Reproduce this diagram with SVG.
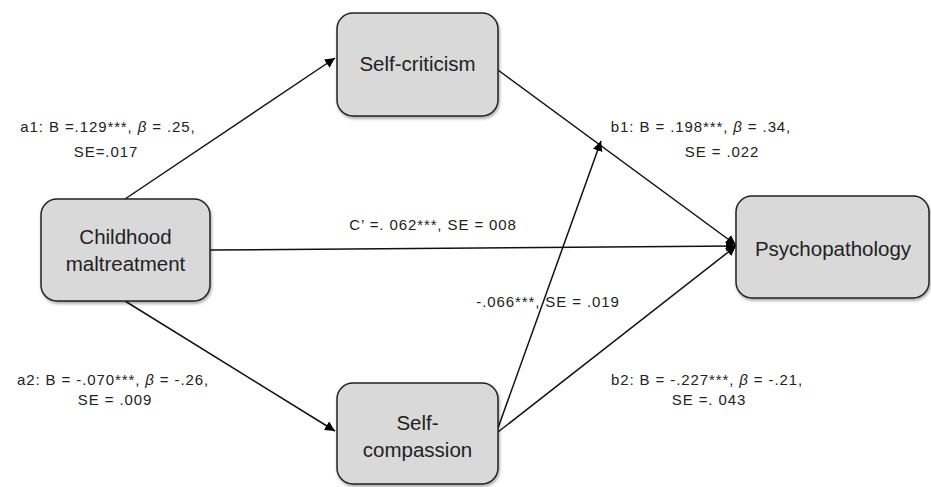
<svg xmlns="http://www.w3.org/2000/svg" width="931" height="487" viewBox="0 0 931 487">
<defs>
<marker id="ah" viewBox="0 0 10 10" refX="10" refY="5" markerWidth="10" markerHeight="10" markerUnits="userSpaceOnUse" orient="auto">
<path d="M0,0 L10,5 L0,10 z" fill="#000"/>
</marker>
<filter id="sh" x="-10%" y="-10%" width="130%" height="130%">
<feGaussianBlur in="SourceAlpha" stdDeviation="1.5"/>
<feOffset dx="1" dy="2"/>
<feComponentTransfer><feFuncA type="linear" slope="0.35"/></feComponentTransfer>
<feMerge><feMergeNode/><feMergeNode in="SourceGraphic"/></feMerge>
</filter>
<style>
.box{fill:#d9d9d9;stroke:#222;stroke-width:1.5;filter:url(#sh)}
.nt{font-family:"Liberation Sans",Arial,sans-serif;font-size:20.5px;fill:#222;text-anchor:middle}
.lb{font-family:"Liberation Sans",Arial,sans-serif;font-size:15px;letter-spacing:0.9px;fill:#222;text-anchor:middle}
.ln{stroke:#111;stroke-width:1.5;fill:none;marker-end:url(#ah)}
</style>
</defs>
<rect width="931" height="487" fill="#fff"/>
<g id="connectors">
<line class="ln" x1="125" y1="199" x2="335" y2="58"/>
<line class="ln" x1="125" y1="301" x2="335" y2="431"/>
<line class="ln" x1="210" y1="250" x2="736" y2="246"/>
<line class="ln" x1="498" y1="70" x2="736" y2="245"/>
<line class="ln" x1="498" y1="432" x2="736" y2="246"/>
<line class="ln" x1="498" y1="428" x2="601" y2="141"/>
</g>
<g id="childhood">
<rect class="box" x="41" y="199" width="169" height="102" rx="16"/>
<text class="nt" x="125.5" y="244">Childhood</text>
<text class="nt" x="125.5" y="271">maltreatment</text>
</g>
<g id="selfcriticism">
<rect class="box" x="337" y="13" width="161" height="103" rx="16"/>
<text class="nt" x="417.5" y="71">Self-criticism</text>
</g>
<g id="selfcompassion">
<rect class="box" x="337" y="383" width="161" height="101" rx="16"/>
<text class="nt" x="417.5" y="430">Self-</text>
<text class="nt" x="417.5" y="457">compassion</text>
</g>
<g id="psychopathology">
<rect class="box" x="736" y="196" width="193" height="102" rx="16"/>
<text class="nt" x="833" y="256">Psychopathology</text>
</g>
<g id="labels">
<text class="lb" x="108" y="132">a1: B =.129***, <tspan font-style="italic">β</tspan> = .25,</text>
<text class="lb" x="106" y="157">SE=.017</text>
<text class="lb" x="113" y="385">a2: B = -.070***, <tspan font-style="italic">β</tspan> = -.26,</text>
<text class="lb" x="115" y="405">SE = .009</text>
<text class="lb" x="701" y="132">b1: B = .198***, <tspan font-style="italic">β</tspan> = .34,</text>
<text class="lb" x="722" y="157">SE = .022</text>
<text class="lb" x="707" y="385">b2: B = -.227***, <tspan font-style="italic">β</tspan> = -.21,</text>
<text class="lb" x="709" y="405">SE =. 043</text>
<text class="lb" x="433" y="230">C’ =. 062***, SE = 008</text>
<text class="lb" x="548" y="307">-.066***, SE = .019</text>
</g>
</svg>
